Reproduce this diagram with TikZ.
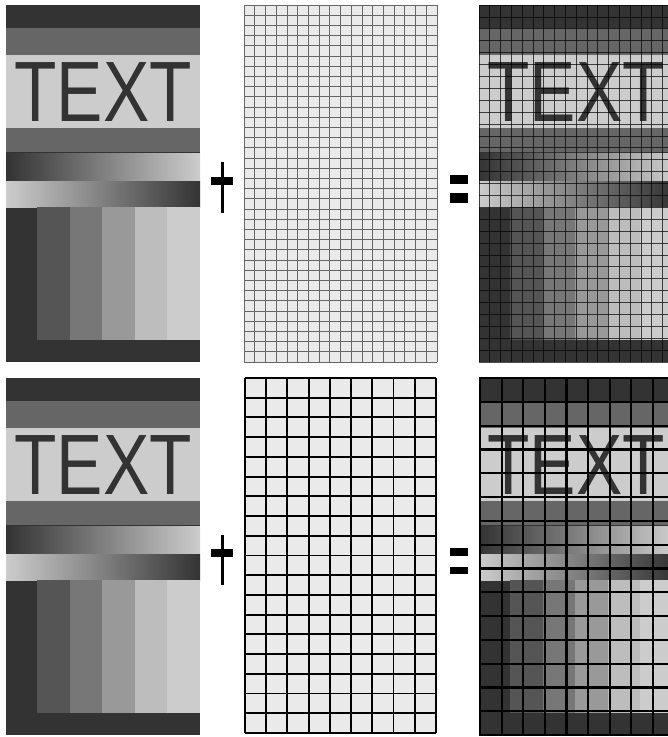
\documentclass[tikz,border=0pt]{standalone}
\usepackage{fontspec}
\newfontfamily\cardfont{Liberation Sans}
\definecolor{carddark}{HTML}{333333}
\definecolor{cardmid}{HTML}{666666}
\definecolor{cardlight}{HTML}{CCCCCC}
\definecolor{stripea}{HTML}{555555}
\definecolor{stripeb}{HTML}{777777}
\definecolor{stripec}{HTML}{999999}
\definecolor{striped}{HTML}{BDBDBD}
\definecolor{stripee}{HTML}{CCCCCC}
\definecolor{gridfill}{HTML}{EAEAEA}

% one test card, top left corner at (#1,#2), text node named #3
\newcommand{\testcard}[3]{%
  \begin{scope}[shift={(#1,#2)}]
    \fill[carddark] (0,0) rectangle (194,357);
    \fill[cardmid] (0,23) rectangle (194,50);
    \fill[cardlight] (0,50) rectangle (194,123);
    \fill[cardmid] (0,123) rectangle (194,147);
    \shade[left color=carddark, right color=cardlight] (0,148) rectangle (194,176);
    \shade[left color=cardlight, right color=carddark] (0,176) rectangle (194,202);
    \foreach \c [count=\i from 0] in {stripea,stripeb,stripec,striped,stripee}
      \fill[\c] (31+\i*32.6,202) rectangle ++(32.6,133);
    \node[cardtext] (#3) at (97,87) {TEXT};
  \end{scope}}

\begin{document}
\begin{tikzpicture}[
    x=1bp, y=-1bp,
    cardtext/.style={font=\cardfont\fontsize{86}{86}\selectfont,
                     text=carddark, inner sep=0pt, xscale=0.81, transform shape},
    fineline/.style={gray!80!black, line width=0.75bp},
    overline/.style={black, opacity=0.7, line width=0.7bp},
    coarseline/.style={black, line width=1.9bp},
    boldline/.style={black, line width=2.2bp},
    sign/.style={black},
]
\useasboundingbox (0,0) rectangle (668,737);

% ================================================================
% TOP ROW: image + fine grid = fine mosaic
% ================================================================
\testcard{6}{5}{topcard}

\fill[sign] (221,162) rectangle (223.5,213);
\fill[sign] (211,177) rectangle (233,185);

% fine grid (18 x 35)
\fill[gridfill] (244,5) rectangle (437,362);
\foreach \i in {0,...,18}
  \draw[fineline] (244+\i*10.72,5) -- ++(0,357);
\foreach \j in {0,...,35}
  \draw[fineline] (244,5+\j*10.2) -- ++(193,0);

\fill[sign] (450,175) rectangle (468,184);
\fill[sign] (450,193) rectangle (468,203);

\begin{scope}
  \clip (479,5) rectangle (668,362);
  \testcard{479}{5}{topmosaic}
  \foreach \i in {0,...,18}
    \draw[overline] (479+\i*10.8,5) -- ++(0,357);
  \foreach \j in {0,...,30}
    \draw[overline] (479,5+\j*11.9) -- ++(194,0);
\end{scope}

% ================================================================
% BOTTOM ROW: image + coarse grid = coarse mosaic
% ================================================================
\testcard{6}{378}{botcard}

\fill[sign] (221,535) rectangle (223.5,585);
\fill[sign] (211,549) rectangle (233,557);

% coarse grid (9 x 18)
\fill[gridfill] (245,378) rectangle (436,733);
\foreach \i in {0,...,9}
  \draw[coarseline] (245+\i*21.22,378) -- ++(0,355);
\foreach \j in {0,...,18}
  \draw[coarseline] (245,378+\j*19.72) -- ++(191,0);

\fill[sign] (450,548) rectangle (468,556);
\fill[sign] (450,567) rectangle (468,574);

\begin{scope}
  \clip (479,377) rectangle (668,735);
  \testcard{479}{378}{botmosaic}
  \foreach \i in {0,...,9}
    \draw[boldline] (480+\i*21.6,377) -- ++(0,358);
  \foreach \j in {0,...,15}
    \draw[boldline] (479,378+\j*23.8) -- ++(194,0);
\end{scope}

\end{tikzpicture}
\end{document}
